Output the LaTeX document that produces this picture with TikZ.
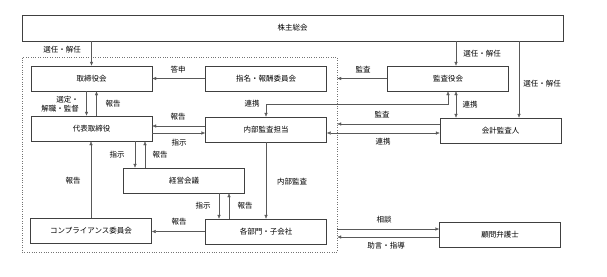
\documentclass[tikz,border=0pt]{standalone}
\usepackage{fontspec}
\setmainfont{Noto Sans CJK JP}
\usetikzlibrary{arrows.meta}

\begin{document}
\begin{tikzpicture}[x=1pt,y=-1pt,font=\fontsize{7.5}{9}\selectfont,
  b/.style={draw=black!75,minimum width=121pt,minimum height=25pt,inner sep=0pt},
  a/.style={draw=black!65,-{Latex[length=4pt,width=3.5pt]}},
  aa/.style={draw=black!65,{Latex[length=4pt,width=3.5pt]}-{Latex[length=4pt,width=3.5pt]}}]
\useasboundingbox (0,0) rectangle (607,276);

\node[draw=black!55,dotted,minimum width=315pt,minimum height=195pt,inner sep=0pt] (grp) at (179.5,154.5) {};

\node[b,minimum width=541pt,minimum height=26pt] (soukai) at (292.5,28) {株主総会};
\node[b] (tori) at (91.5,78.5) {取締役会};
\node[b] (shimei) at (266,78.5) {指名・報酬委員会};
\node[b] (kansa) at (448,78.5) {監査役会};
\node[b] (daihyo) at (91.5,128.5) {代表取締役};
\node[b] (naibu) at (266,129.5) {内部監査担当};
\node[b] (kaikei) at (500.5,130.5) {会計監査人};
\node[b] (keiei) at (184,180.5) {経営会議};
\node[b] (compl) at (91,230.5) {コンプライアンス委員会};
\node[b] (kakubu) at (266,231.5) {各部門・子会社};
\node[b] (komon) at (500,234.5) {顧問弁護士};

\draw[a] (soukai.south -| tori.north) -- (tori.north);
\draw[a] ([xshift=8pt]kansa.north |- soukai.south) -- ([xshift=8pt]kansa.north);
\draw[a] ([xshift=18.5pt]kaikei.north |- soukai.south) -- ([xshift=18.5pt]kaikei.north);
\draw[a] (shimei.west) -- (tori.east);
\draw[a] (kansa.west) -- (kansa.west -| grp.east);
\draw[a] ([xshift=-5pt]tori.south) -- ([xshift=-5pt]tori.south |- daihyo.north);
\draw[a] ([xshift=5pt]tori.south |- daihyo.north) -- ([xshift=5pt]tori.south);
\draw[a] ([yshift=3.5pt]naibu.west) -- ([yshift=3.5pt]naibu.west -| daihyo.east);
\draw[a] ([yshift=-3.5pt]naibu.west -| daihyo.east) -- ([yshift=-3.5pt]naibu.west);
\draw[aa] (naibu.north) -- ++(0,-13) -| (kansa.south);
\draw[aa] ([xshift=8pt]kansa.south) -- ([xshift=8pt]kansa.south |- kaikei.north);
\draw[a] ([yshift=6.5pt]kaikei.west) -- ([yshift=6.5pt]kaikei.west -| grp.east);
\draw[aa] ([yshift=-3.5pt]naibu.east) -- ([yshift=-3.5pt]naibu.east -| kaikei.west);
\draw[a] ([xshift=-49pt]keiei.north |- daihyo.south) -- ([xshift=-49pt]keiei.north);
\draw[a] ([xshift=-39pt]keiei.north) -- ([xshift=-39pt]keiei.north |- daihyo.south);
\draw[a] ([xshift=35pt]keiei.south) -- ([xshift=35pt]keiei.south |- kakubu.north);
\draw[a] ([xshift=45pt]keiei.south |- kakubu.north) -- ([xshift=45pt]keiei.south);
\draw[a] (naibu.south) -- (kakubu.north);
\draw[a] (kakubu.west) -- (kakubu.west -| compl.east);
\draw[a] (compl.north) -- (compl.north |- daihyo.south);
\draw[a] ([yshift=5.5pt]komon.west -| grp.east) -- ([yshift=5.5pt]komon.west);
\draw[a] ([yshift=-2.5pt]komon.west) -- ([yshift=-2.5pt]komon.west -| grp.east);

\node (l1) at (62,50) {選任・解任};
\node (l2) at (482,54) {選任・解任};
\node (l3) at (542,84) {選任・解任};
\node (l4) at (178,70) {答申};
\node (l5) at (363,70) {監査};
\node[align=right,anchor=east,inner sep=0pt] (l6) at (79,104) {選定・\\解職・監督};
\node (l7) at (113,104) {報告};
\node (l8) at (252,104) {連携};
\node (l9) at (470,105) {連携};
\node (l10) at (178,117) {報告};
\node (l11) at (382,115) {監査};
\node (l12) at (179,143) {指示};
\node (l13) at (383,142) {連携};
\node (l14) at (117,155) {指示};
\node (l15) at (160,155) {報告};
\node (l16) at (73,181) {報告};
\node (l17) at (292,182) {内部監査};
\node (l18) at (203,206) {指示};
\node (l19) at (245,206) {報告};
\node (l20) at (179,222) {報告};
\node (l21) at (384,220) {相談};
\node (l22) at (386,246) {助言・指導};
\end{tikzpicture}
\end{document}
